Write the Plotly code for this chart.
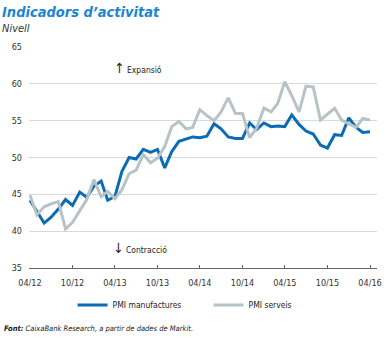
import plotly.graph_objects as go
import pandas as pd

months = pd.date_range("2012-04-01", "2016-04-01", freq="MS")

pmi_manufactures = [
    44.2, 42.6, 41.1, 41.9, 43.0, 44.3, 43.5, 45.3, 44.6,
    46.1, 46.8, 44.2, 44.7, 48.1, 50.0, 49.8, 51.1, 50.7, 51.1, 48.6, 50.8,
    52.2, 52.5, 52.8, 52.7, 52.9, 54.6, 53.9, 52.8, 52.6, 52.6, 54.7, 53.8,
    54.7, 54.2, 54.3, 54.2, 55.8, 54.5, 53.6, 53.2, 51.7, 51.3, 53.1, 53.0,
    55.4, 54.1, 53.4, 53.5,
]
pmi_serveis = [
    44.9, 42.2, 43.3, 43.7, 44.0, 40.3, 41.2, 42.7, 44.3,
    47.0, 44.7, 45.4, 44.4, 45.6, 47.8, 48.3, 50.4, 49.3, 49.9, 51.5, 54.2,
    54.9, 53.9, 54.1, 56.5, 55.7, 55.0, 56.2, 58.1, 56.0, 56.0, 52.7, 54.0,
    56.7, 56.2, 57.3, 60.3, 58.4, 56.2, 59.7, 59.6, 55.1, 55.9, 56.7, 55.1,
    54.6, 54.1, 55.3, 55.1,
]
tick_dates = pd.date_range("2012-04-01", "2016-04-01", freq="6MS")
tick_labels = ["04/12", "10/12", "04/13", "10/13", "04/14", "10/14", "04/15", "10/15", "04/16"]
y_ticks = [35, 40, 45, 50, 55, 60, 65]

NARROW = "Liberation Sans Narrow, DejaVu Sans Condensed, Arial Narrow, sans-serif"
BLUE = "#0a6cb5"
GREY = "#b8c3c7"

fig = go.Figure()
fig.add_trace(go.Scatter(x=months, y=pmi_manufactures, mode="lines", name="PMI manufactures",
                         line=dict(color=BLUE, width=3)))
fig.add_trace(go.Scatter(x=months, y=pmi_serveis, mode="lines", name="PMI serveis",
                         line=dict(color=GREY, width=3)))

fig.update_layout(
    width=390, height=338,
    margin=dict(l=29, r=13, t=47, b=70, autoexpand=False),
    paper_bgcolor="white", plot_bgcolor="white",
    font=dict(family=NARROW, size=9, color="#333333"),
    showlegend=True,
    legend=dict(orientation="h", xref="container", yref="container", x=0.186, y=0.098,
                xanchor="left", yanchor="middle", entrywidth=91, entrywidthmode="pixels",
                font=dict(size=8.5, color="#222222"), bgcolor="rgba(0,0,0,0)"),
    xaxis=dict(type="date", range=["2012-03-28", "2016-05-01"], tickvals=tick_dates,
               ticktext=tick_labels, showgrid=False, showline=True, linecolor="#666666",
               linewidth=1, ticks="inside", ticklen=3, tickcolor="#666666", zeroline=False,
               ticklabelstandoff=6, tickfont=dict(size=9)),
    yaxis=dict(range=[34.99, 65.02], tickvals=y_ticks, showgrid=True, gridcolor="#d9d9d9",
               gridwidth=1, zeroline=False, showline=False, ticks="", ticklabelstandoff=6,
               tickfont=dict(size=9)),
)

fig.add_annotation(xref="paper", yref="paper", x=-29/348, y=1+35/221, xanchor="left", yanchor="middle",
                   text="<b><i>Indicadors d’activitat</i></b>", showarrow=False,
                   font=dict(size=14.5, color="#1b86cf", family=NARROW))
fig.add_annotation(xref="paper", yref="paper", x=-29/348, y=1+19/221, xanchor="left", yanchor="middle",
                   text="<i>Nivell</i>", showarrow=False, font=dict(size=11, color="#333333", family=NARROW))
fig.add_annotation(x="2013-03-20", y=62.1, xanchor="left", yanchor="middle",
                   text="<span style='font-size:14px'>↑</span> Expansió", showarrow=False,
                   font=dict(size=8.5, color="#222222"))
fig.add_annotation(x="2013-03-15", y=37.7, xanchor="left", yanchor="middle",
                   text="<span style='font-size:14px'>↓</span> Contracció", showarrow=False,
                   font=dict(size=8.5, color="#222222"))
fig.add_annotation(xref="paper", yref="paper", x=-27/348, y=-60/221, xanchor="left", yanchor="middle",
                   text="<b><i>Font:</i></b><i> CaixaBank Research, a partir de dades de Markit.</i>",
                   showarrow=False, font=dict(size=7.5, color="#222222", family=NARROW))

fig.write_html("out.html")
